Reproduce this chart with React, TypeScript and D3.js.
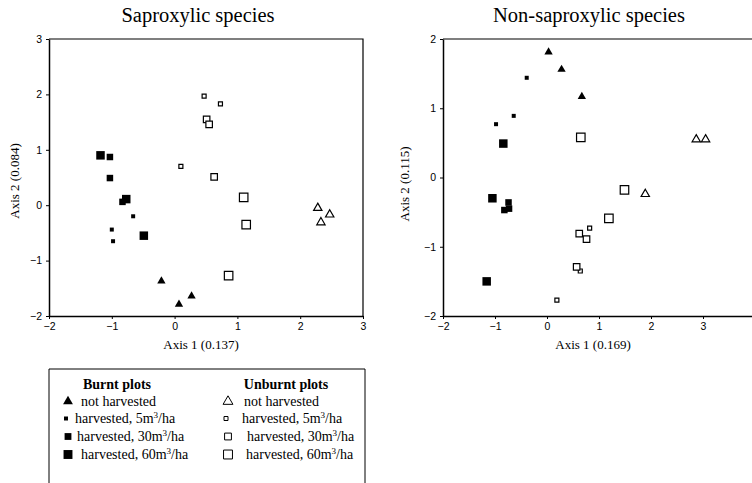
import { useEffect, useRef } from 'react';
import * as d3 from 'd3';

// group keys: burnt (filled) / unburnt (open), harvest level
const groupKeys = ['bNH', 'b5', 'b30', 'b60', 'uNH', 'u5', 'u30', 'u60'];
const harvestLabels = ['not harvested', 'harvested, 5', 'harvested, 30', 'harvested, 60'];

// Saproxylic species ordination scores [axis1, axis2, group]
const saproxylicPoints: [number, number, string][] = [
  [-0.21, -1.37, 'bNH'], [0.07, -1.79, 'bNH'], [0.27, -1.64, 'bNH'],
  [-0.66, -0.2, 'b5'], [-1.0, -0.44, 'b5'], [-0.98, -0.65, 'b5'],
  [-1.03, 0.87, 'b30'], [-1.03, 0.49, 'b30'], [-0.83, 0.06, 'b30'],
  [-1.18, 0.9, 'b60'], [-0.77, 0.11, 'b60'], [-0.49, -0.55, 'b60'],
  [2.28, -0.05, 'uNH'], [2.47, -0.17, 'uNH'], [2.33, -0.31, 'uNH'],
  [0.47, 1.97, 'u5'], [0.73, 1.83, 'u5'], [0.1, 0.7, 'u5'],
  [0.51, 1.55, 'u30'], [0.55, 1.46, 'u30'], [0.63, 0.51, 'u30'],
  [1.1, 0.14, 'u60'], [1.14, -0.35, 'u60'], [0.86, -1.27, 'u60'],
];

// Non-saproxylic species ordination scores
const nonSaproxylicPoints: [number, number, string][] = [
  [0.03, 1.81, 'bNH'], [0.28, 1.56, 'bNH'], [0.67, 1.17, 'bNH'],
  [-0.39, 1.44, 'b5'], [-0.64, 0.89, 'b5'], [-0.98, 0.77, 'b5'],
  [-0.74, -0.36, 'b30'], [-0.82, -0.47, 'b30'], [-0.73, -0.45, 'b30'],
  [-0.84, 0.49, 'b60'], [-1.16, -1.5, 'b60'], [-1.05, -0.3, 'b60'],
  [2.87, 0.55, 'uNH'], [3.05, 0.55, 'uNH'], [1.89, -0.24, 'uNH'],
  [0.82, -0.73, 'u5'], [0.64, -1.35, 'u5'], [0.19, -1.77, 'u5'],
  [0.62, -0.81, 'u30'], [0.76, -0.89, 'u30'], [0.57, -1.29, 'u30'],
  [0.65, 0.58, 'u60'], [1.49, -0.18, 'u60'], [1.19, -0.59, 'u60'],
];

const sapXTicks = [-2, -1, 0, 1, 2, 3];
const sapYTicks = [-2, -1, 0, 1, 2, 3];
const nonXTicks = [-2, -1, 0, 1, 2, 3];
const nonYTicks = [-2, -1, 0, 1, 2];

const symbolFor = (g: string) => {
  const filled = g[0] === 'b';
  const level = g.slice(1);
  if (level === 'NH') return { type: d3.symbolTriangle, size: 30, filled };
  const side = level === '5' ? 4 : level === '30' ? 6.5 : 8.5;
  return { type: d3.symbolSquare, size: side * side, filled };
};

export default function App() {
  const ref = useRef<SVGSVGElement>(null);

  useEffect(() => {
    if (!ref.current) return;
    const svg = d3.select(ref.current);
    svg.selectAll('*').remove();
    const serif = 'Liberation Serif, Times New Roman, serif';

    const panels = [
      {
        title: 'Saproxylic species', titleX: 198, xTitle: 'Axis 1 (0.137)', xTitleX: 201,
        yTitle: 'Axis 2 (0.084)', yTitleX: 19, yTitleY: 181,
        data: saproxylicPoints, xd: [-2, 3], yd: [-2, 3], xr: [49, 363], yr: [316, 39],
        xt: sapXTicks, yt: sapYTicks,
      },
      {
        title: 'Non-saproxylic species', titleX: 589, xTitle: 'Axis 1 (0.169)', xTitleX: 593,
        yTitle: 'Axis 2 (0.115)', yTitleX: 409, yTitleY: 184,
        data: nonSaproxylicPoints, xd: [-2, 4], yd: [-2, 2], xr: [443, 755], yr: [316, 39],
        xt: nonXTicks, yt: nonYTicks,
      },
    ];

    panels.forEach(p => {
      const x = d3.scaleLinear().domain(p.xd).range(p.xr);
      const y = d3.scaleLinear().domain(p.yd).range(p.yr);
      const g = svg.append('g');

      // box (top + right)
      g.append('path')
        .attr('d', `M${p.xr[0]},${p.yr[1]}H${p.xr[1]}V${p.yr[0]}`)
        .attr('fill', 'none').attr('stroke', '#000').attr('stroke-width', 1.2);

      const xAxis = g.append('g')
        .attr('transform', `translate(0,${p.yr[0]})`)
        .call(d3.axisBottom(x).tickValues(p.xt).tickSize(3).tickSizeOuter(0).tickFormat(d3.format('d')));
      const yAxis = g.append('g')
        .attr('transform', `translate(${p.xr[0]},0)`)
        .call(d3.axisLeft(y).tickValues(p.yt).tickSize(3).tickSizeOuter(0).tickFormat(d3.format('d')));
      [xAxis, yAxis].forEach(a => {
        a.select('.domain').attr('stroke-width', 1.5);
        a.selectAll('text').style('font-family', 'Liberation Sans, Arial, sans-serif')
          .style('font-size', '10.5px').attr('fill', '#000');
      });
      xAxis.selectAll('text').attr('dy', '0.75em').attr('y', 6);
      yAxis.selectAll('text').attr('x', -7);

      g.selectAll('path.pt')
        .data(p.data)
        .join('path')
        .attr('class', 'pt')
        .attr('transform', d => `translate(${x(d[0])},${y(d[1])})`)
        .attr('d', d => {
          const s = symbolFor(d[2]);
          return d3.symbol().type(s.type).size(s.size)()!;
        })
        .attr('fill', d => (symbolFor(d[2]).filled ? '#000' : '#fff'))
        .attr('stroke', '#000')
        .attr('stroke-width', d => (symbolFor(d[2]).filled ? 0 : 1.2));

      g.append('text')
        .attr('x', p.titleX)
        .attr('y', 22)
        .attr('text-anchor', 'middle')
        .style('font-family', serif).style('font-size', '20.5px')
        .text(p.title);
      g.append('text')
        .attr('x', p.xTitleX)
        .attr('y', 349)
        .attr('text-anchor', 'middle')
        .style('font-family', serif).style('font-size', '13px')
        .text(p.xTitle);
      g.append('text')
        .attr('transform', `translate(${p.yTitleX},${p.yTitleY}) rotate(-90)`)
        .attr('text-anchor', 'middle')
        .style('font-family', serif).style('font-size', '13px')
        .text(p.yTitle);
    });

    // legend
    const lg = svg.append('g');
    lg.append('path')
      .attr('d', 'M49,490V369H365V490')
      .attr('fill', 'none').attr('stroke', '#000').attr('stroke-width', 1);

    const cols = [
      { head: 'Burnt plots', cx: 117, symX: 68, textX: [81, 75, 77, 81], keys: groupKeys.slice(0, 4) },
      { head: 'Unburnt plots', cx: 286, symX: 228, textX: [244, 242, 247, 246], keys: groupKeys.slice(4) },
    ];
    const rowY = [406, 423, 441, 459];
    cols.forEach(c => {
      lg.append('text')
        .attr('x', c.cx).attr('y', 389)
        .attr('text-anchor', 'middle')
        .style('font-family', serif).style('font-size', '14px').style('font-weight', 'bold')
        .text(c.head);
      c.keys.forEach((k, i) => {
        const s = symbolFor(k);
        const scale = i === 0 ? 1.4 : i === 1 ? 1 : 1.1;
        lg.append('path')
          .attr('transform', `translate(${c.symX - (i === 1 ? 2 : 0)},${rowY[i] - 4.5})`)
          .attr('d', d3.symbol().type(s.type).size(s.size * scale)()!)
          .attr('fill', s.filled ? '#000' : '#fff')
          .attr('stroke', '#000')
          .attr('stroke-width', s.filled ? 0 : 1);
        const t = lg.append('text')
          .attr('x', c.textX[i]).attr('y', rowY[i])
          .style('font-family', serif).style('font-size', '14px');
        if (i === 0) {
          t.text(harvestLabels[i]);
        } else {
          t.append('tspan').text(`${harvestLabels[i]}m`);
          t.append('tspan').attr('dy', -5).style('font-size', '9px').text('3');
          t.append('tspan').attr('dy', 5).text('/ha');
        }
      });
    });
  }, []);

  return (
    <svg
      ref={ref}
      width={752}
      height={483}
      style={{ position: 'absolute', left: 0, top: 0, background: '#fff' }}
    />
  );
}
